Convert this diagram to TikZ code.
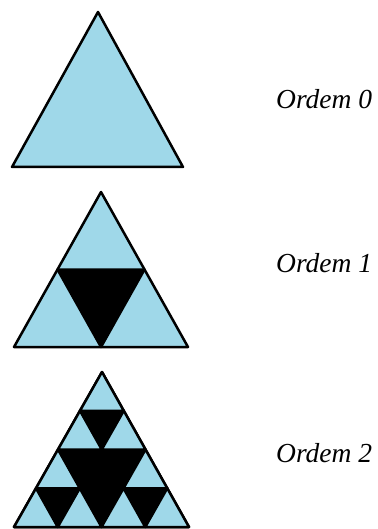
\documentclass[tikz,border=0pt]{standalone}
\usepackage{fontspec}
\setmainfont{Liberation Serif}
\usetikzlibrary{calc}
\definecolor{skyfill}{HTML}{9FD8E9}
\definecolor{ink}{HTML}{000000}

\begin{document}
\begin{tikzpicture}[
  x=1pt, y=-1pt,
  piece/.style={
    draw=ink,
    fill=skyfill,
    line width=2.5pt,
    line join=round
  },
  hole/.style={
    draw=ink,
    fill=ink,
    line width=2.5pt,
    line join=round
  },
  order label/.style={
    anchor=base west,
    inner sep=0pt,
    font=\itshape\fontsize{27.5}{31}\selectfont
  }
]
\useasboundingbox (0,0) rectangle (377,529);

% Order 0
\coordinate (a0) at (12,167);
\coordinate (b0) at (183,167);
\coordinate (c0) at (98,12);
\draw[piece] (a0) -- (b0) -- (c0) -- cycle;

% Order 1
\coordinate (a1) at (14,347);
\coordinate (b1) at (188,347);
\coordinate (c1) at (101,192);
\draw[piece] (a1) -- (b1) -- (c1) -- cycle;
\draw[hole] ($(a1)!0.5!(b1)$) -- ($(b1)!0.5!(c1)$) -- ($(a1)!0.5!(c1)$) -- cycle;

% Order 2: black ground, nine small triangles on top
\coordinate (a2) at (14,527);
\coordinate (b2) at (189,527);
\coordinate (c2) at (102,372);
\coordinate (u2) at (43.75,0);
\coordinate (v2) at (22,-38.75);
\draw[hole] (a2) -- (b2) -- (c2) -- cycle;
\foreach \i/\j in {0/0,1/0,0/1,2/0,3/0,2/1,0/2,1/2,0/3}{
  \draw[piece] ($(a2)+\i*(u2)+\j*(v2)$) -- ++(u2) -- ($(a2)+\i*(u2)+\j*(v2)+(v2)$) -- cycle;
}

% Labels
\node[order label] (ordem0) at (276,109) {Ordem 0};
\node[order label] (ordem1) at (276,272) {Ordem 1};
\node[order label] (ordem2) at (276,462) {Ordem 2};

\end{tikzpicture}
\end{document}
